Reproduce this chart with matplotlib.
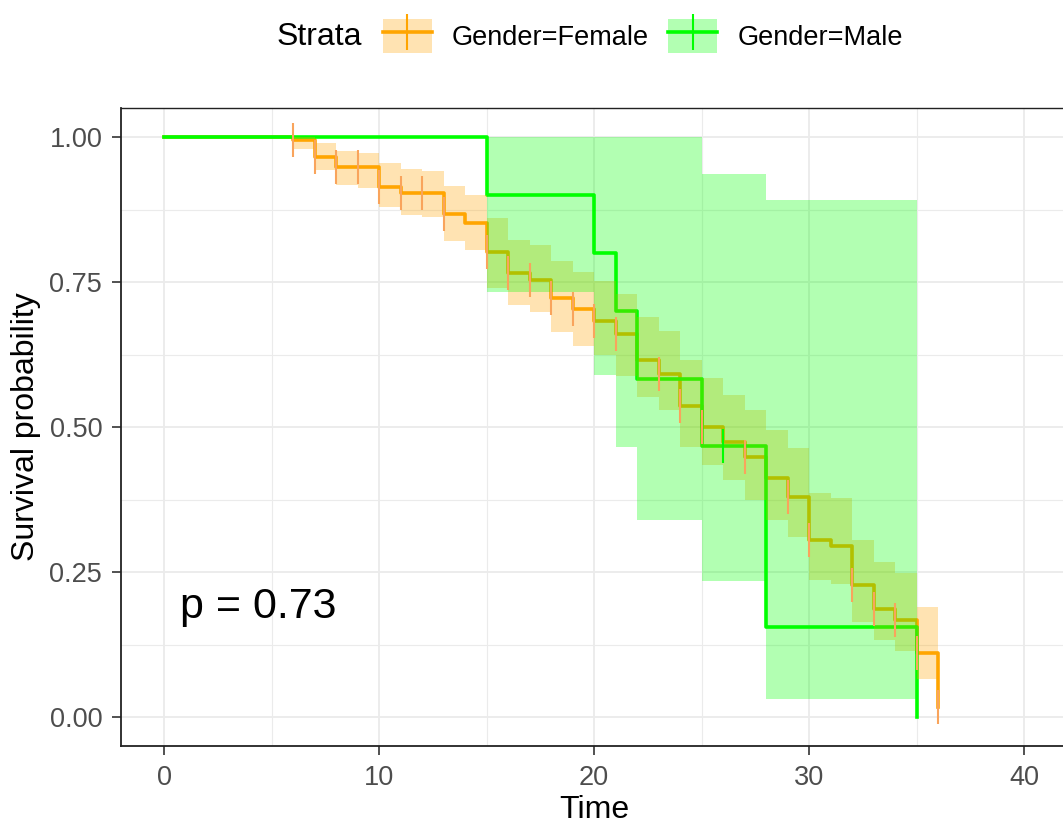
import matplotlib
matplotlib.use("Agg")
import matplotlib.pyplot as plt
from matplotlib.patches import Patch
from matplotlib.lines import Line2D

plt.rcParams['font.family'] = ['Liberation Sans', 'DejaVu Sans']

# Kaplan-Meier estimates (step starts, survival, CI)
female_time = [0, 6, 7, 8, 9, 10, 11, 12, 13, 14, 15, 16, 17, 18, 19, 20,
               21, 22, 23, 24, 25, 26, 27, 28, 29, 30, 31, 32, 33, 34, 35, 36]
female_surv = [1.0, 0.995, 0.966, 0.948, 0.948, 0.914, 0.903, 0.903, 0.867, 0.852,
               0.801, 0.766, 0.753, 0.722, 0.703, 0.683, 0.660, 0.616, 0.591, 0.536,
               0.500, 0.474, 0.448, 0.412, 0.379, 0.305, 0.294, 0.227, 0.186, 0.168,
               0.111, 0.018]
female_upper = [1.0, 1.0, 0.989, 0.976, 0.973, 0.955, 0.944, 0.942, 0.916, 0.900,
                0.860, 0.822, 0.814, 0.786, 0.768, 0.752, 0.729, 0.690, 0.666, 0.616,
                0.584, 0.555, 0.529, 0.495, 0.463, 0.387, 0.377, 0.305, 0.268, 0.248,
                0.190, 0.018]
female_lower = [1.0, 0.980, 0.943, 0.917, 0.912, 0.880, 0.866, 0.862, 0.820, 0.805,
                0.740, 0.710, 0.699, 0.664, 0.640, 0.624, 0.588, 0.552, 0.530, 0.466,
                0.435, 0.409, 0.374, 0.340, 0.311, 0.236, 0.230, 0.163, 0.133, 0.113,
                0.065, 0.018]
female_censor = [6, 7, 8, 9, 10, 11, 12, 13, 15, 16, 17, 18, 19, 20, 21, 23, 24,
                 25, 27, 29, 30, 32, 33, 34, 35, 36]

male_time = [0, 15, 20, 21, 22, 25, 26, 28, 35]
male_surv = [1.0, 0.900, 0.800, 0.700, 0.583, 0.467, 0.467, 0.156, 0.0]
male_upper = [1.0, 1.0, 1.0, 1.0, 1.0, 0.937, 0.937, 0.891, 0.0]
male_lower = [1.0, 0.733, 0.590, 0.466, 0.340, 0.235, 0.235, 0.031, 0.0]
male_censor = [26]

strata = ['Gender=Female', 'Gender=Male']
colors = ['#FFA500', '#00FF00']
pval_text = 'p = 0.73'

fig = plt.figure(figsize=(10.63, 8.31), dpi=100)
ax = fig.add_axes([121 / 1063, 85 / 831, 946 / 1063, 638 / 831])

# survival curves first, ribbons on top (as survminer draws them)
ax.step(female_time, female_surv, where='post', color=colors[0], lw=2.6, zorder=3)
ax.step(male_time, male_surv, where='post', color=colors[1], lw=2.6, zorder=3)
ax.fill_between(female_time, female_lower, female_upper, step='post',
                color=colors[0], alpha=0.3, lw=0, zorder=4)
ax.fill_between(male_time, male_lower, male_upper, step='post',
                color=colors[1], alpha=0.3, lw=0, zorder=4)

# censor marks
f_cs = [female_surv[female_time.index(t)] for t in female_censor]
m_cs = [male_surv[male_time.index(t)] for t in male_censor]
ax.plot(female_censor, f_cs, ls='none', marker='|', ms=25, mew=1.5,
        color='#F9A45C', zorder=5)
ax.plot(male_censor, m_cs, ls='none', marker='|', ms=25, mew=1.5,
        color=colors[1], zorder=5)

ax.text(0.75, 0.19, pval_text, fontsize=31, ha='left', va='center', zorder=6)

ax.set_xlim(-2, 42)
ax.set_ylim(-0.05, 1.05)
ax.set_xticks([0, 10, 20, 30, 40])
ax.set_yticks([0, 0.25, 0.5, 0.75, 1.0])
ax.set_yticklabels(['%.2f' % v for v in [0, 0.25, 0.5, 0.75, 1.0]])
ax.set_xticks([5, 15, 25, 35], minor=True)
ax.set_yticks([0.125, 0.375, 0.625, 0.875], minor=True)
ax.grid(True, which='major', color='#EBEBEB', lw=1.3, zorder=0)
ax.grid(True, which='minor', color='#EBEBEB', lw=0.8, zorder=0)
ax.set_axisbelow(True)
ax.tick_params(which='major', length=6.5, width=1.1, color='#222222',
               labelsize=19.5, labelcolor='#4D4D4D', pad=7)
ax.tick_params(which='minor', length=0)
for s in ax.spines.values():
    s.set_color('#222222')
    s.set_linewidth(1.0)
ax.spines['left'].set_linewidth(1.3)
ax.spines['bottom'].set_linewidth(1.3)

ax.set_xlabel('Time', fontsize=23, labelpad=3)
ax.set_ylabel('Survival probability', fontsize=23, labelpad=6)

# legend along the top
fig.text(277 / 1063, 1 - 37 / 831, 'Strata', fontsize=23, ha='left', va='center')
handles = [(Patch(facecolor=c, alpha=0.3, lw=0),
            Line2D([], [], color=c, lw=2.6, marker='|', ms=26, mew=1.5))
           for c in colors]
fig.legend(handles, strata, loc='center left',
           bbox_to_anchor=(383 / 1063, 1 - 36 / 831), ncol=2, frameon=False,
           fontsize=19.5, handlelength=1.8, handleheight=1.6, handletextpad=0.75,
           columnspacing=0.7, borderpad=0, borderaxespad=0)

fig.savefig('out.png', dpi=100)
